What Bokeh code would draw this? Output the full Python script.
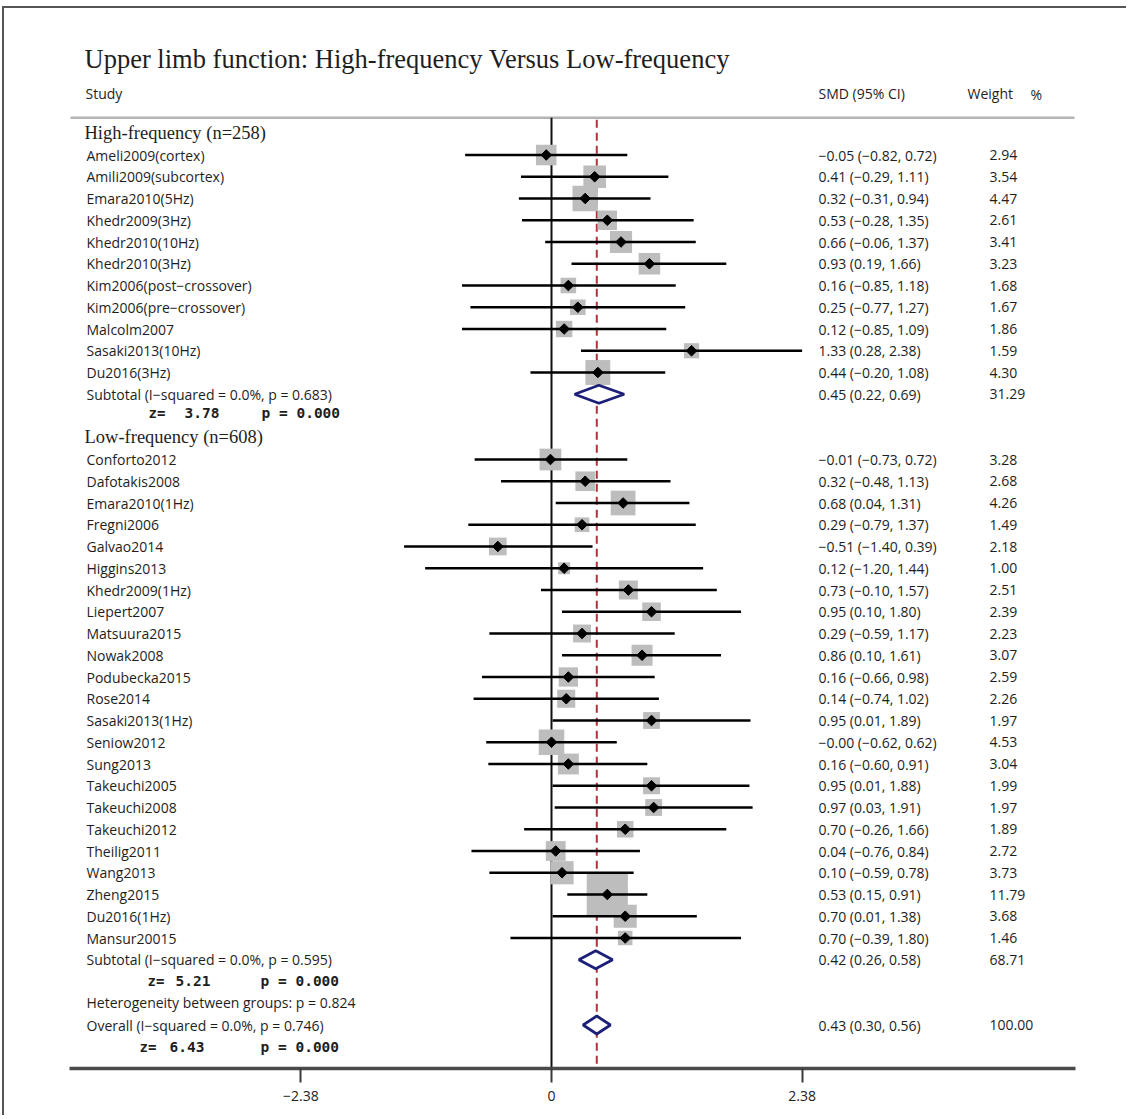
import numpy as np
from bokeh.plotting import figure
from bokeh.models import ColumnDataSource, FixedTicker, Range1d
from bokeh.core.properties import value
from bokeh.embed import file_html
from bokeh.resources import INLINE

# ---------------- data ----------------
title = "Upper limb function: High-frequency Versus Low-frequency"

high_studies = ["Ameli2009(cortex)", "Amili2009(subcortex)", "Emara2010(5Hz)", "Khedr2009(3Hz)",
                "Khedr2010(10Hz)", "Khedr2010(3Hz)", "Kim2006(post\u2212crossover)",
                "Kim2006(pre\u2212crossover)", "Malcolm2007", "Sasaki2013(10Hz)", "Du2016(3Hz)"]
high_smd = [-0.05, 0.41, 0.32, 0.53, 0.66, 0.93, 0.16, 0.25, 0.12, 1.33, 0.44]
high_lo = [-0.82, -0.29, -0.31, -0.28, -0.06, 0.19, -0.85, -0.77, -0.85, 0.28, -0.20]
high_hi = [0.72, 1.11, 0.94, 1.35, 1.37, 1.66, 1.18, 1.27, 1.09, 2.38, 1.08]
high_w = [2.94, 3.54, 4.47, 2.61, 3.41, 3.23, 1.68, 1.67, 1.86, 1.59, 4.30]

low_studies = ["Conforto2012", "Dafotakis2008", "Emara2010(1Hz)", "Fregni2006", "Galvao2014",
               "Higgins2013", "Khedr2009(1Hz)", "Liepert2007", "Matsuura2015", "Nowak2008",
               "Podubecka2015", "Rose2014", "Sasaki2013(1Hz)", "Seniow2012", "Sung2013",
               "Takeuchi2005", "Takeuchi2008", "Takeuchi2012", "Theilig2011", "Wang2013",
               "Zheng2015", "Du2016(1Hz)", "Mansur20015"]
low_smd = [-0.01, 0.32, 0.68, 0.29, -0.51, 0.12, 0.73, 0.95, 0.29, 0.86, 0.16, 0.14, 0.95,
           -0.00, 0.16, 0.95, 0.97, 0.70, 0.04, 0.10, 0.53, 0.70, 0.70]
low_lo = [-0.73, -0.48, 0.04, -0.79, -1.40, -1.20, -0.10, 0.10, -0.59, 0.10, -0.66, -0.74, 0.01,
          -0.62, -0.60, 0.01, 0.03, -0.26, -0.76, -0.59, 0.15, 0.01, -0.39]
low_hi = [0.72, 1.13, 1.31, 1.37, 0.39, 1.44, 1.57, 1.80, 1.17, 1.61, 0.98, 1.02, 1.89, 0.62,
          0.91, 1.88, 1.91, 1.66, 0.84, 0.78, 0.91, 1.38, 1.80]
low_w = [3.28, 2.68, 4.26, 1.49, 2.18, 1.00, 2.51, 2.39, 2.23, 3.07, 2.59, 2.26, 1.97, 4.53,
         3.04, 1.99, 1.97, 1.89, 2.72, 3.73, 11.79, 3.68, 1.46]
low_smd_labels_negzero = ["Seniow2012"]   # printed as -0.00 in the source

summary_labels = ["Subtotal  (I\u2212squared = 0.0%, p = 0.683)",
                  "Subtotal  (I\u2212squared = 0.0%, p = 0.595)",
                  "Overall  (I\u2212squared = 0.0%, p = 0.746)"]
summary_smd = [0.45, 0.42, 0.43]
summary_lo = [0.22, 0.26, 0.30]
summary_hi = [0.69, 0.58, 0.56]
summary_w = [31.29, 68.71, 100.00]
summary_z = ["3.78", "5.21", "6.43"]
summary_p = ["0.000", "0.000", "0.000"]

group_headers = ["High-frequency (n=258)", "Low-frequency (n=608)"]
heterogeneity = "Heterogeneity between groups: p = 0.824"
tick_values = [-2.38, 0, 2.38]
tick_labels = ["\u22122.38", "0", "2.38"]

# ---------------- geometry (reference pixel mapping) ----------------
OX, OY = 4, 8                            # page position of the plot canvas
ZERO_PX, PX_PER_UNIT = 551.0, 105.3      # x scale (reference pixels)
ROW0_PX, ROW_PX = 154.3, 21.75           # row scale (reference pixels)
W, FRAME_H, BOTTOM = 1124, 1060, 49
AXIS_ROW = 42.0


def X(px):  # reference page pixel -> data x
    return (px - ZERO_PX) / PX_PER_UNIT


def R(py):  # reference page pixel -> row
    return (py - ROW0_PX) / ROW_PX


x_start = X(OX)
x_end = x_start + W / PX_PER_UNIT
y_top = AXIS_ROW - FRAME_H / ROW_PX


def fmt(v, neg=False):
    if v < 0 or neg:
        return "\u2212" + f"{abs(v):.2f}"
    return f"{v:.2f}"


def est_text(e, l, h, neg_zero=False):
    return f"{fmt(e, neg_zero)} ({fmt(l)}, {fmt(h)})"


high_rows = list(range(0, len(high_studies)))
low_rows = list(range(14, 14 + len(low_studies)))
summary_rows = [11, 37, 40]
header_rows = [R(132), R(436)]

p = figure(width=W, height=FRAME_H + BOTTOM, output_backend="svg", toolbar_location=None,
           x_range=Range1d(x_start, x_end), y_range=Range1d(AXIS_ROW, y_top),
           min_border_left=0, min_border_right=0, min_border_top=0, min_border_bottom=BOTTOM,
           y_axis_location=None, outline_line_color=None)
p.grid.visible = False
p.background_fill_color = "white"

# header separator
p.segment(x0=[X(70)], x1=[X(1074)], y0=[R(117)], y1=[R(117)], line_color="#b4b4b4", line_width=2.5)

# zero line and overall dashed line
p.segment(x0=[0], x1=[0], y0=[R(117)], y1=[AXIS_ROW], line_color="#111111", line_width=2)
p.segment(x0=[summary_smd[2]], x1=[summary_smd[2]], y0=[R(119)], y1=[AXIS_ROW],
          line_color="#ad343c", line_width=2, line_dash="8 5")

# study data
all_names = high_studies + low_studies
all_smd = high_smd + low_smd
all_lo = high_lo + low_lo
all_hi = high_hi + low_hi
all_w = high_w + low_w
all_rows = high_rows + low_rows
src = ColumnDataSource(dict(
    x=all_smd, lo=all_lo, hi=all_hi, y=all_rows,
    size=[12.0 * np.sqrt(w) for w in all_w]))

p.scatter(x="x", y="y", size="size", marker="square", source=src,
          fill_color="#bdbdbd", line_color=None)
p.segment(x0="lo", x1="hi", y0="y", y1="y", source=src, line_color="black", line_width=2.7)
p.scatter(x="x", y="y", size=7.5, marker="square", angle=np.pi / 4, source=src,
          fill_color="black", line_color="black")

# summary diamonds
half_h = 9.0 / ROW_PX
xs = [[l, e, h, e] for l, e, h in zip(summary_lo, summary_smd, summary_hi)]
ys = [[r, r - half_h, r, r + half_h] for r in summary_rows]
p.patches(xs=xs, ys=ys, fill_color="white", line_color="#1c1f78", line_width=2.7)

# ---------------- texts ----------------
SANS = value("Open Sans")
SERIF = value("Liberation Serif")
MONO = value("DejaVu Sans Mono")
TXT = "#1e1e1e"


def texts(xpx, rows, labels, size="14px", font=SANS, style="normal", color=TXT,
          align="left", baseline="middle"):
    p.text(x=[X(xpx)] * len(rows), y=rows, text=labels, text_font=font,
           text_font_size=size, text_font_style=style, text_color=color,
           text_baseline=baseline, text_align=align)


# title and column headers
texts(84, [R(58)], [title], size="26.5px", font=SERIF, baseline="alphabetic")
texts(85, [R(92.5)], ["Study"])
texts(818, [R(92.5)], ["SMD (95% CI)"])
texts(967, [R(92.5)], ["Weight"])
texts(1030, [R(93.5)], ["%"])

# group headers
texts(84, header_rows, group_headers, size="18.5px", font=SERIF)

# study rows
texts(86, all_rows, all_names)
est_labels = [est_text(e, l, h, neg_zero=(n in low_smd_labels_negzero))
              for n, e, l, h in zip(all_names, all_smd, all_lo, all_hi)]
texts(818, all_rows, est_labels)
texts(989, all_rows, [f"{w:.2f}" for w in all_w])

# summaries
texts(86, summary_rows, summary_labels)
texts(818, summary_rows, [est_text(e, l, h) for e, l, h in zip(summary_smd, summary_lo, summary_hi)])
texts(989, summary_rows, [f"{w:.2f}" for w in summary_w])

z_rows = [R(412.5), R(980), R(1046.5)]
texts(148, z_rows[0:1], ["z="], size="14px", font=MONO, style="bold")
texts(147, z_rows[1:2], ["z="], size="14px", font=MONO, style="bold")
texts(139, z_rows[2:3], ["z="], size="14px", font=MONO, style="bold")
texts(184, z_rows[0:1], summary_z[0:1], size="14.5px", font=MONO, style="bold")
texts(175, z_rows[1:2], summary_z[1:2], size="14.5px", font=MONO, style="bold")
texts(169, z_rows[2:3], summary_z[2:3], size="14.5px", font=MONO, style="bold")
texts(261, z_rows[0:1], ["p = " + summary_p[0]], size="14.5px", font=MONO, style="bold")
texts(260, z_rows[1:3], ["p = " + v for v in summary_p[1:3]], size="14.5px", font=MONO, style="bold")

texts(86, [R(1002)], [heterogeneity])

# ---------------- axis ----------------
ax = p.xaxis[0]
ax.ticker = FixedTicker(ticks=tick_values)
ax.major_label_overrides = {t: l for t, l in zip(tick_values, tick_labels)}
ax.bounds = (X(68.5), X(1075))
ax.axis_line_width = 3.5
ax.axis_line_color = "#4a4a4a"
ax.major_tick_line_color = "#3a3a3a"
ax.major_tick_line_width = 2
ax.major_tick_in = 0
ax.major_tick_out = 14
ax.minor_tick_line_color = None
ax.major_label_standoff = 8
ax.major_label_text_font = "Open Sans"
ax.major_label_text_font_size = "14px"
ax.major_label_text_color = "#222222"

# frame lines of the source figure (left and top)
p.styles = {"margin-left": "2px", "margin-top": "6px",
            "border-left": "2px solid #555555", "border-top": "2px solid #555555"}

open("out.html", "w").write(file_html(p, INLINE))
